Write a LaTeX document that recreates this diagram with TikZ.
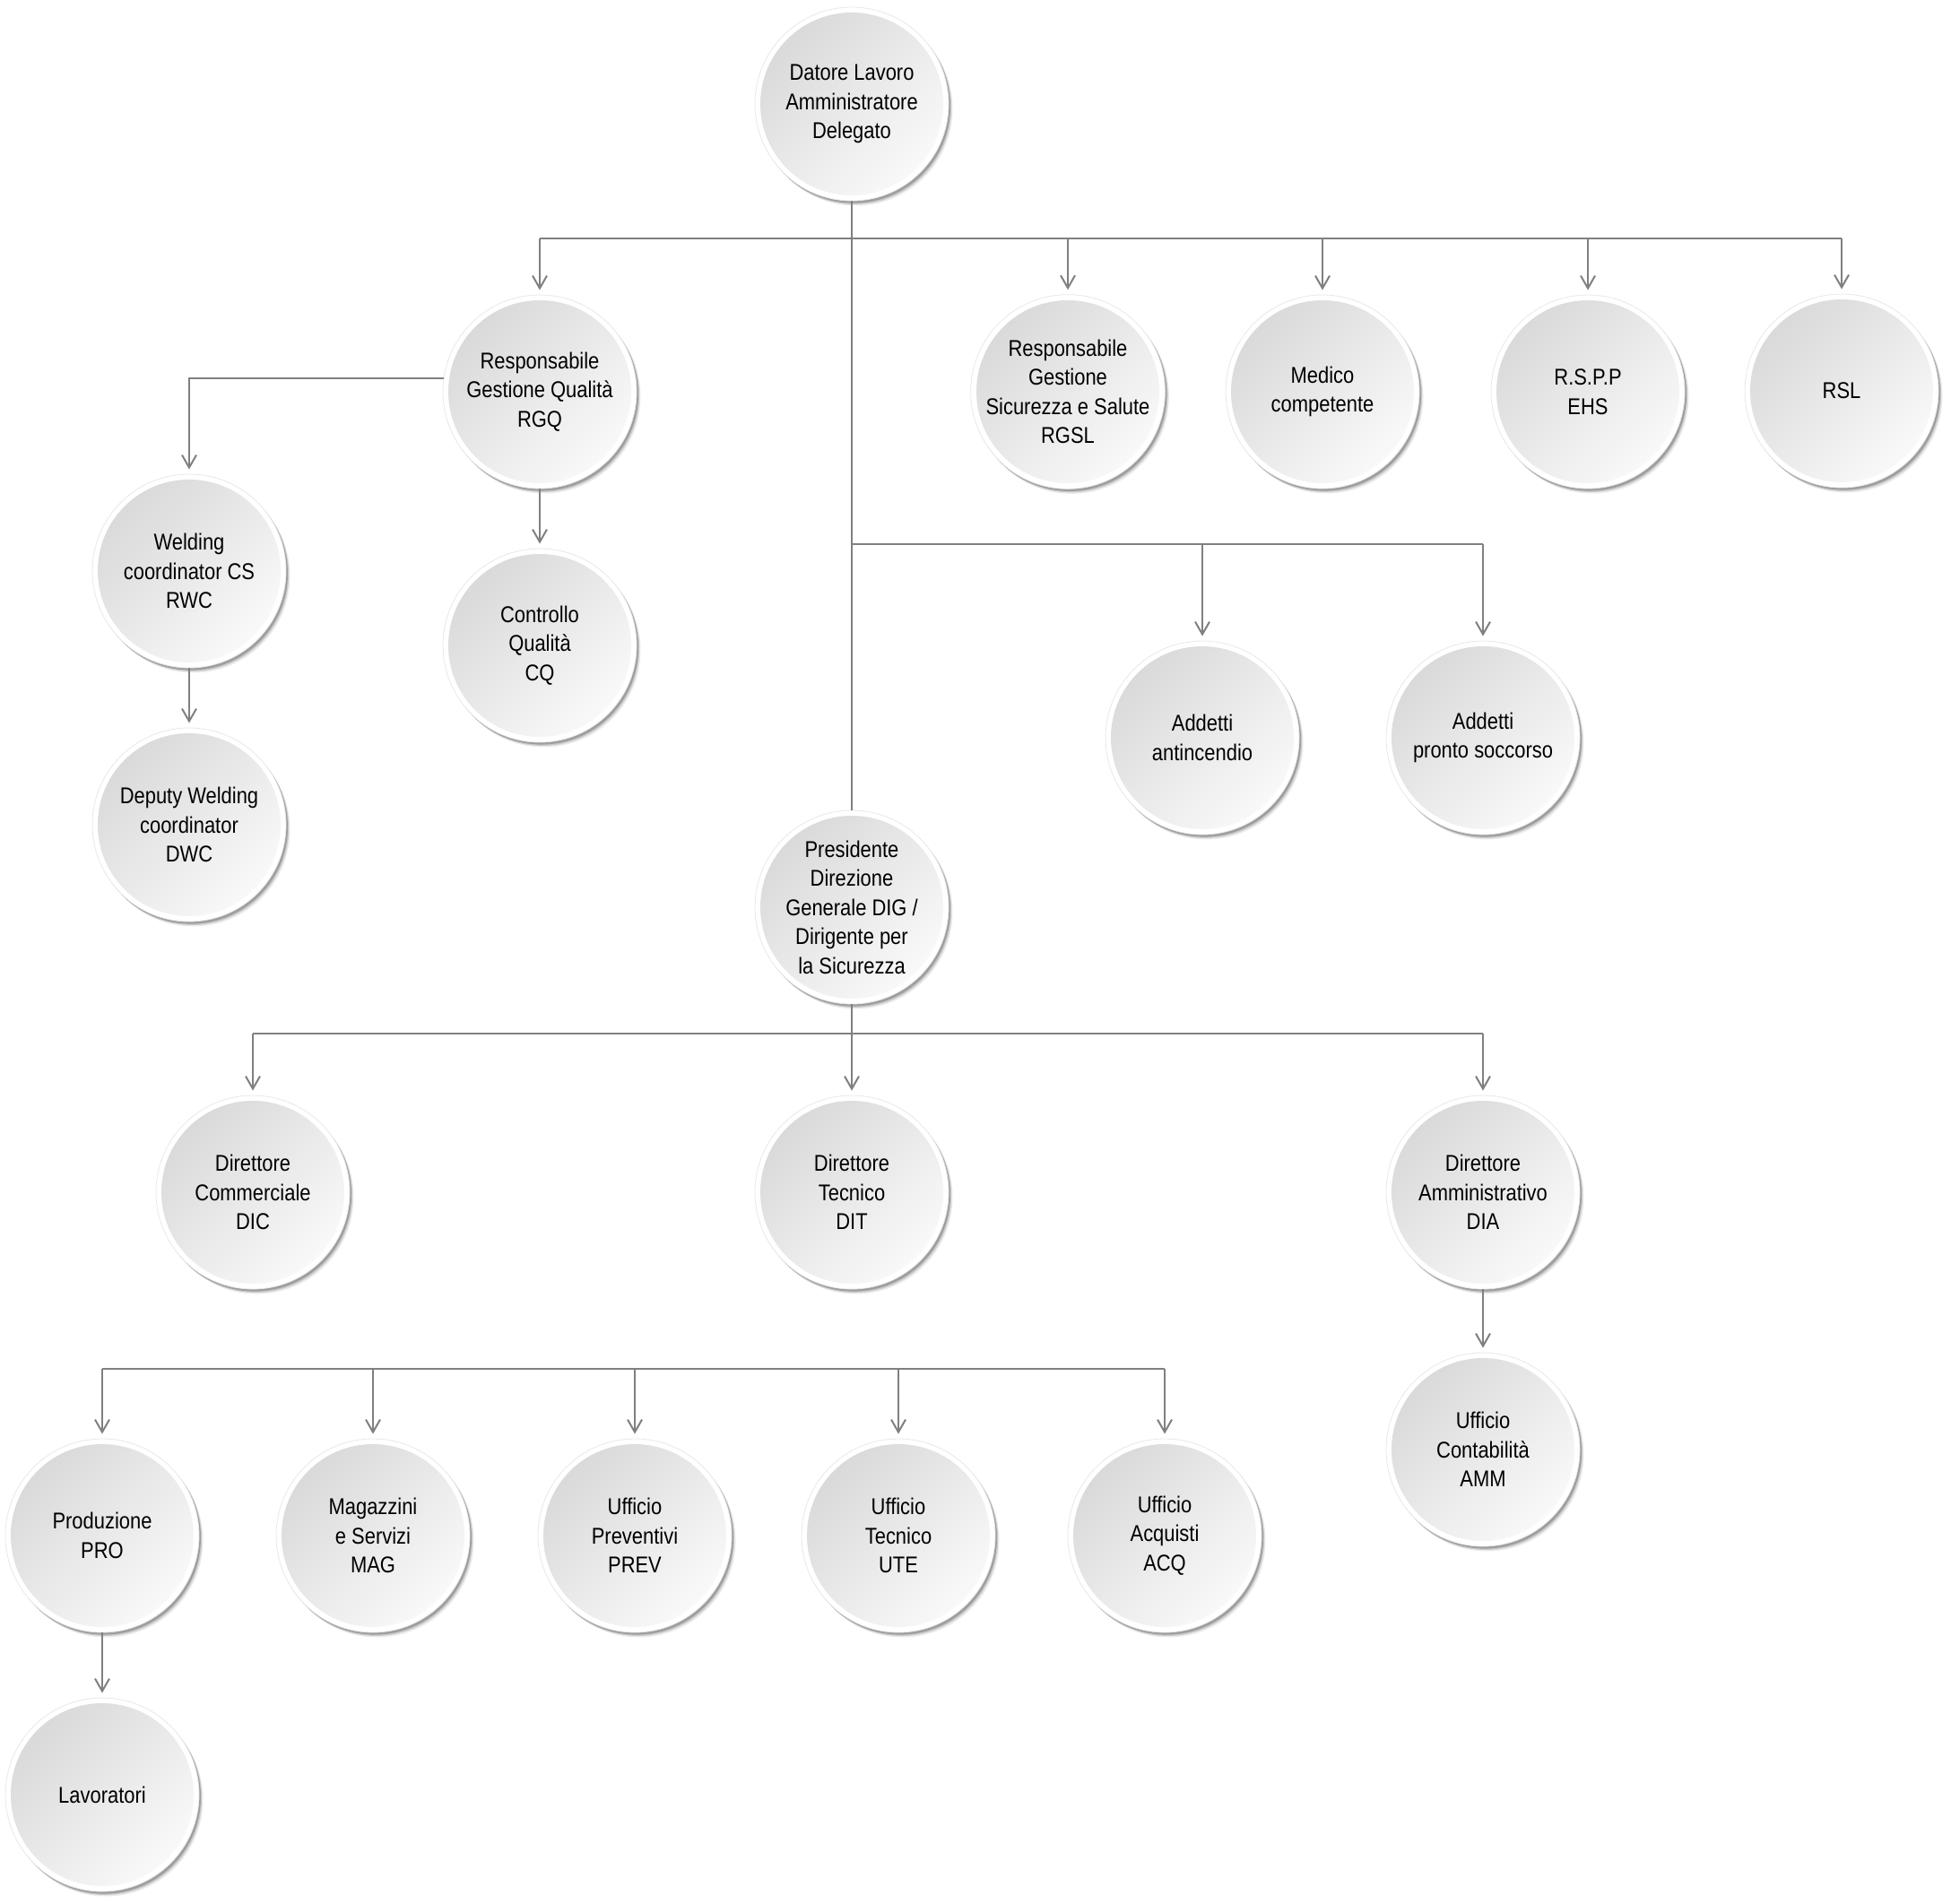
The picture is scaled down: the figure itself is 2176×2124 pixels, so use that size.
\documentclass[tikz,border=0pt]{standalone}
\usepackage{fontspec}
\newfontfamily\orgfontfam[FakeStretch=0.86]{Liberation Sans}
\newcommand\orgfont{\orgfontfam\fontsize{25.5}{32.5}\selectfont}
\usetikzlibrary{arrows.meta}
\tikzset{
  org/.style={circle, minimum size=216pt, inner sep=0pt, align=center, font=\orgfont,
    fill=white, draw=black!9, line width=0.8pt,
    preaction={fill=black, opacity=0.08, transform canvas={shift={(4.5pt,-5.5pt)}}},
    preaction={fill=black, opacity=0.14, transform canvas={shift={(3.2pt,-4pt)}}},
    preaction={fill=black, opacity=0.22, transform canvas={shift={(2pt,-2.6pt)}}},
    path picture={\shade[top color=black!15, bottom color=black!2, shading angle=45]
      (path picture bounding box.center) circle (102pt);}
  },
  conn/.style={draw=black!50, line width=2pt},
  arr/.style={conn, -{Straight Barb[length=14pt,width=16pt,line width=2pt]}, shorten >=5pt}
}
\begin{document}
\begin{tikzpicture}[x=1pt,y=-1pt]
\useasboundingbox (0,0) rectangle (2176,2124);

% nodes
\node[org] (dat) at (950,116) {Datore Lavoro\\Amministratore\\Delegato};
\node[org] (rgq) at (602,437) {Responsabile\\Gestione Qualità\\RGQ};
\node[org] (rgsl) at (1191,437) {Responsabile\\Gestione\\Sicurezza e Salute\\RGSL};
\node[org] (med) at (1475,437) {Medico\\competente};
\node[org] (rspp) at (1771,437) {R.S.P.P\\EHS};
\node[org] (rsl) at (2054,436) {RSL};
\node[org] (weld) at (211,637) {Welding\\coordinator CS\\RWC};
\node[org] (cq) at (602,720) {Controllo\\Qualità\\CQ};
\node[org] (dep) at (211,920) {Deputy Welding\\coordinator\\DWC};
\node[org] (anti) at (1341,823) {Addetti\\antincendio};
\node[org] (pronto) at (1654,823) {Addetti\\pronto soccorso};
\node[org] (pres) at (950,1012) {Presidente\\Direzione\\Generale DIG /\\Dirigente per\\la Sicurezza};
\node[org] (dic) at (282,1330) {Direttore\\Commerciale\\DIC};
\node[org] (dit) at (950,1330) {Direttore\\Tecnico\\DIT};
\node[org] (dia) at (1654,1330) {Direttore\\Amministrativo\\DIA};
\node[org] (amm) at (1654,1617) {Ufficio\\Contabilità\\AMM};
\node[org] (pro) at (114,1713) {Produzione\\PRO};
\node[org] (mag) at (416,1713) {Magazzini\\e Servizi\\MAG};
\node[org] (prev) at (708,1713) {Ufficio\\Preventivi\\PREV};
\node[org] (ute) at (1002,1713) {Ufficio\\Tecnico\\UTE};
\node[org] (acq) at (1299,1713) {Ufficio\\Acquisti\\ACQ};
\node[org] (lav) at (114,2002) {Lavoratori};

% bus coordinates
\coordinate (b1) at (950,266);
\coordinate (b2) at (950,607);
\coordinate (b3) at (950,1153);
\coordinate (b4) at (114,1527);

% top level
\draw[conn] (dat) -- (pres);
\draw[conn] (rgq |- b1) -- (rsl |- b1);
\foreach \n in {rgq,rgsl,med,rspp,rsl}
  \draw[arr] (\n |- b1) -- (\n);

% quality branch
\draw[arr] (rgq.172) -| (weld);
\draw[arr] (rgq) -- (cq);
\draw[arr] (weld) -- (dep);

% safety staff
\draw[conn] (b2) -- (pronto |- b2);
\draw[arr] (anti |- b2) -- (anti);
\draw[arr] (pronto |- b2) -- (pronto);

% directors
\draw[arr] (pres) -- (dit);
\draw[conn] (dic |- b3) -- (dia |- b3);
\draw[arr] (dic |- b3) -- (dic);
\draw[arr] (dia |- b3) -- (dia);
\draw[arr] (dia) -- (amm);

% offices
\draw[conn] (b4) -- (acq |- b4);
\foreach \n in {pro,mag,prev,ute,acq}
  \draw[arr] (\n |- b4) -- (\n);
\draw[arr] (pro) -- (lav);
\end{tikzpicture}
\end{document}
